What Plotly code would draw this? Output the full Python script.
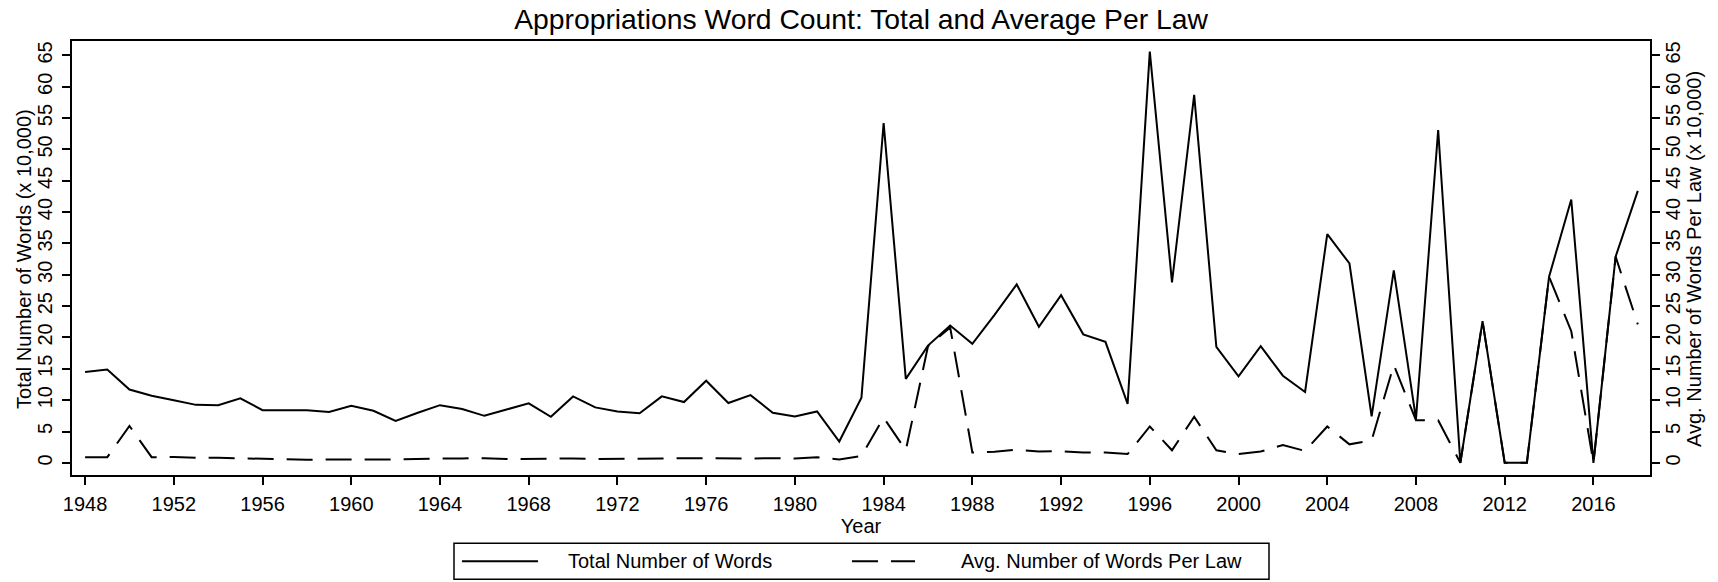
import plotly.graph_objects as go

# Appropriations word counts, in units of 10,000 words
years = list(range(1948, 2019))

total_words = [
    14.5, 14.9, 11.7, 10.7, 10.0, 9.25, 9.2, 10.3, 8.4, 8.4,      # 1948-1957
    8.4, 8.1, 9.1, 8.3, 6.7, 8.0, 9.2, 8.6, 7.5, 8.5,             # 1958-1967
    9.5, 7.35, 10.6, 8.85, 8.2, 7.9, 10.6, 9.7, 13.1, 9.55,       # 1968-1977
    10.8, 8.0, 7.4, 8.2, 3.4, 10.4, 54.2, 13.4, 18.7, 21.9,       # 1978-1987
    19.0, 23.6, 28.45, 21.7, 26.75, 20.5, 19.3, 9.4, 65.6, 28.8,  # 1988-1997
    58.7, 18.5, 13.8, 18.6, 13.9, 11.3, 36.5, 31.8, 7.4, 30.7,    # 1998-2007
    7.0, 53.1, 0.0, 22.6, 0.0, 0.0, 29.7, 42.0, 0.0, 32.9,        # 2008-2017
    43.4,                                                         # 2018
]

avg_words_per_law = [
    0.9, 0.9, 5.9, 0.9, 0.95, 0.8, 0.8, 0.7, 0.6, 0.55,           # 1948-1957
    0.5, 0.55, 0.6, 0.55, 0.55, 0.65, 0.7, 0.7, 0.75, 0.6,        # 1958-1967
    0.65, 0.65, 0.7, 0.6, 0.6, 0.65, 0.7, 0.75, 0.7, 0.7,         # 1968-1977
    0.7, 0.75, 0.7, 0.9, 0.55, 1.1, 7.2, 2.0, 18.6, 21.6,         # 1978-1987
    1.65, 1.75, 2.1, 1.8, 1.85, 1.65, 1.65, 1.4, 5.8, 2.0,        # 1988-1997
    7.35, 2.0, 1.4, 1.8, 2.85, 1.9, 5.8, 2.95, 3.6, 15.6,         # 1998-2007
    6.8, 6.8, 0.0, 22.6, 0.0, 0.0, 29.7, 21.0, 0.0, 32.9,         # 2008-2017
    22.1,                                                         # 2018
]

year_ticks = list(range(1948, 2017, 4))
value_ticks = list(range(0, 66, 5))

FONT = "Liberation Sans, Arial, sans-serif"
W, H = 1718, 582
L, R, T, B = 72, 68, 40.5, 106.5
PW, PH = W - L - R, H - T - B
DASH = "26px,13px"


def px(x):
    return (x - L) / PW


def py(y):
    return (H - B - y) / PH


fig = go.Figure()
fig.add_trace(go.Scatter(
    x=years, y=total_words, mode="lines", name="Total Number of Words",
    line=dict(color="black", width=2), yaxis="y", showlegend=False,
))
fig.add_trace(go.Scatter(
    x=years, y=avg_words_per_law, mode="lines", name="Avg. Number of Words Per Law",
    line=dict(color="black", width=2, dash=DASH), yaxis="y2", showlegend=False,
))

axis_common = dict(
    range=[-1.94, 67.3], tickvals=value_ticks, ticks="outside", ticklen=8,
    tickwidth=1.5, tickcolor="black", showline=True, linecolor="black",
    linewidth=1.5, showgrid=False, zeroline=False, tickangle=-90,
    tickfont=dict(family=FONT, size=20, color="black"),
)

fig.update_layout(
    width=W, height=H,
    margin=dict(l=L, r=R, t=T, b=B, autoexpand=False),
    paper_bgcolor="white", plot_bgcolor="white",
    font=dict(family=FONT, size=20, color="black"),
    title=dict(
        text="Appropriations Word Count: Total and Average Per Law",
        font=dict(family=FONT, size=28.3, color="black"),
        x=0.5, xref="paper", xanchor="center",
        y=1 - 19 / H, yref="container", yanchor="middle",
    ),
    xaxis=dict(
        range=[1947.41, 2018.55], tickvals=year_ticks, ticks="outside",
        ticklen=8, tickwidth=1.5, tickcolor="black", showline=True,
        linecolor="black", linewidth=1.5, mirror=True, showgrid=False,
        zeroline=False, tickfont=dict(family=FONT, size=20, color="black"),
        ticklabelstandoff=2,
        title=dict(text="Year", font=dict(family=FONT, size=20), standoff=0),
    ),
    yaxis=dict(**axis_common, ticklabelstandoff=2),
    yaxis2=dict(**axis_common, overlaying="y", side="right", ticklabelstandoff=-4),
    showlegend=False,
)

# Vertical axis titles, placed beside the tick labels
axis_titles = [
    dict(text="Total Number of Words (x 10,000)", x=px(24)),
    dict(text="Avg. Number of Words Per Law (x 10,000)", x=px(1694)),
]

# Legend box below the plot
leg_top, leg_bot = 544, 580
leg_mid = (leg_top + leg_bot) / 2
shapes = [
    dict(type="rect", xref="paper", yref="paper",
         x0=px(454), x1=px(1269), y0=py(leg_bot), y1=py(leg_top),
         line=dict(color="black", width=1.5), fillcolor="white"),
    dict(type="line", xref="paper", yref="paper",
         x0=px(462), x1=px(538), y0=py(leg_mid), y1=py(leg_mid),
         line=dict(color="black", width=2)),
    dict(type="line", xref="paper", yref="paper",
         x0=px(852), x1=px(915), y0=py(leg_mid), y1=py(leg_mid),
         line=dict(color="black", width=2, dash=DASH)),
]
annotations = [
    dict(text=a["text"], xref="paper", yref="paper", x=a["x"], y=py(259),
         xanchor="center", yanchor="middle", textangle=-90, showarrow=False,
         font=dict(family=FONT, size=20, color="black"))
    for a in axis_titles
] + [
    dict(text="Total Number of Words", xref="paper", yref="paper",
         x=px(566), y=py(leg_mid), xanchor="left", yanchor="middle",
         showarrow=False, font=dict(family=FONT, size=20, color="black")),
    dict(text="Avg. Number of Words Per Law", xref="paper", yref="paper",
         x=px(959), y=py(leg_mid), xanchor="left", yanchor="middle",
         showarrow=False, font=dict(family=FONT, size=20, color="black")),
]
fig.update_layout(shapes=shapes, annotations=annotations)

fig.write_html("out.html")
